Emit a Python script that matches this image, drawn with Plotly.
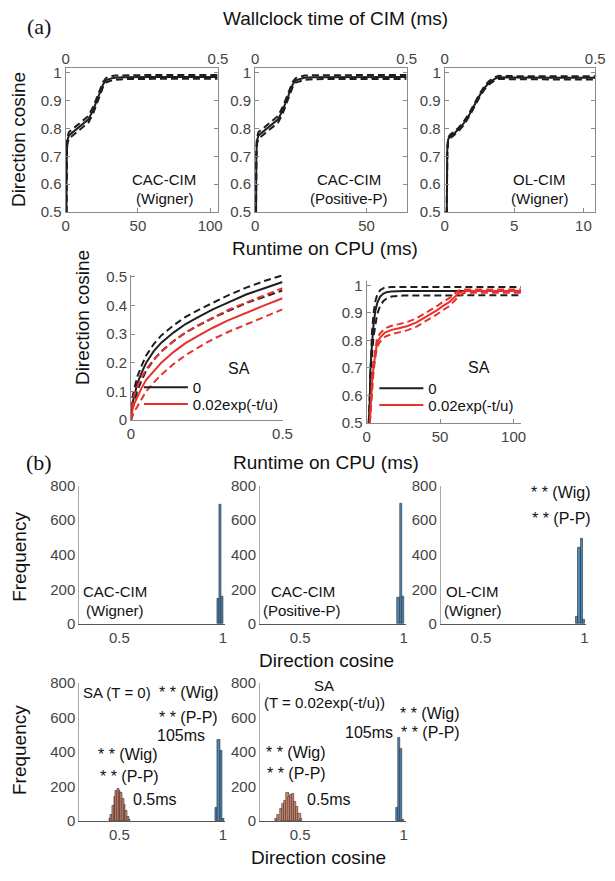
import plotly.graph_objects as go

W, H = 615, 881
FONT = "Liberation Sans, Arial, Helvetica, sans-serif"
SERIF = "Liberation Serif, Times New Roman, serif"
BLACK = "#1e1e1e"
RED = "#e8302c"
BLUE = "#4a88ba"
ORANGE = "#e08a6c"
EDGE = "#2b2b2b"
TICK = "#444444"
AXIS = "#8a8a8a"

# ---------------- data ----------------
# (a) top row: direction cosine vs runtime on CPU (ms)
cacw_t = [0, 0.6, 0.8, 1.2, 2.3, 5, 9, 12.5, 15.8, 19, 22.5, 26, 28, 31, 34, 40, 60, 80, 105]
cacw_mean = [0.5, 0.5, 0.70, 0.755, 0.775, 0.787, 0.805, 0.818, 0.833, 0.865, 0.912, 0.959, 0.973, 0.979, 0.982, 0.984, 0.985, 0.985, 0.985]
cacw_hi = [0.5, 0.5, 0.72, 0.767, 0.787, 0.799, 0.817, 0.830, 0.845, 0.877, 0.924, 0.968, 0.981, 0.987, 0.990, 0.991, 0.992, 0.992, 0.992]
cacw_lo = [0.5, 0.5, 0.68, 0.743, 0.763, 0.775, 0.793, 0.806, 0.821, 0.853, 0.900, 0.950, 0.965, 0.971, 0.974, 0.977, 0.978, 0.978, 0.978]

cacp_t = [0, 0.4, 0.52, 0.78, 1.5, 3.25, 5.85, 8.1, 10.3, 12.35, 14.6, 16.9, 18.2, 20.2, 22.1, 26, 39, 52, 68]
cacp_mean = [0.5, 0.5, 0.70, 0.755, 0.775, 0.787, 0.805, 0.818, 0.833, 0.865, 0.912, 0.959, 0.973, 0.979, 0.982, 0.984, 0.985, 0.985, 0.985]
cacp_hi = [0.5, 0.5, 0.72, 0.767, 0.787, 0.799, 0.817, 0.830, 0.845, 0.877, 0.924, 0.968, 0.981, 0.987, 0.990, 0.991, 0.992, 0.992, 0.992]
cacp_lo = [0.5, 0.5, 0.68, 0.743, 0.763, 0.775, 0.793, 0.806, 0.821, 0.853, 0.900, 0.950, 0.965, 0.971, 0.974, 0.977, 0.978, 0.978, 0.978]

olw_t = [0, 0.15, 0.18, 0.25, 0.4, 0.63, 1.0, 1.34, 1.8, 2.2, 2.5, 2.85, 3.2, 3.6, 3.9, 4.5, 6, 8, 10.85]
olw_mean = [0.5, 0.5, 0.72, 0.762, 0.772, 0.780, 0.797, 0.816, 0.852, 0.890, 0.917, 0.945, 0.964, 0.978, 0.984, 0.983, 0.982, 0.982, 0.982]
olw_hi = [0.5, 0.5, 0.73, 0.768, 0.778, 0.786, 0.803, 0.822, 0.858, 0.896, 0.923, 0.951, 0.970, 0.984, 0.989, 0.988, 0.987, 0.987, 0.987]
olw_lo = [0.5, 0.5, 0.71, 0.756, 0.766, 0.774, 0.791, 0.810, 0.846, 0.884, 0.911, 0.939, 0.958, 0.972, 0.978, 0.977, 0.976, 0.976, 0.976]

wall_ticks = [0, 0.5]

# (a) bottom row: SA, short runtime
sa_short_t = [0, 0.002, 0.005, 0.01, 0.02, 0.035, 0.05, 0.075, 0.1, 0.14, 0.18, 0.22, 0.27, 0.32, 0.38, 0.44, 0.5]
sa0_short = [0, 0.035, 0.06, 0.08, 0.125, 0.165, 0.2, 0.24, 0.27, 0.305, 0.335, 0.358, 0.386, 0.41, 0.438, 0.46, 0.482]
sa0_short_hi = [0, 0.05, 0.08, 0.105, 0.15, 0.19, 0.225, 0.265, 0.295, 0.33, 0.36, 0.383, 0.41, 0.435, 0.462, 0.485, 0.505]
sa0_short_lo = [0, 0.02, 0.04, 0.058, 0.1, 0.138, 0.172, 0.21, 0.24, 0.275, 0.305, 0.328, 0.356, 0.38, 0.408, 0.43, 0.452]
saT_short = [0, 0.02, 0.038, 0.055, 0.08, 0.112, 0.14, 0.172, 0.2, 0.237, 0.268, 0.293, 0.322, 0.348, 0.375, 0.40, 0.425]
saT_short_hi = [0, 0.035, 0.06, 0.085, 0.115, 0.148, 0.177, 0.21, 0.238, 0.275, 0.305, 0.33, 0.358, 0.384, 0.41, 0.436, 0.46]
saT_short_lo = [0, 0.005, 0.018, 0.028, 0.045, 0.072, 0.1, 0.13, 0.158, 0.195, 0.226, 0.252, 0.282, 0.307, 0.334, 0.36, 0.386]

# (a) bottom row: SA, long runtime
sa0_long_t = [1.5, 2.2, 2.6, 3.0, 3.7, 4.8, 5.9, 7.2, 9.2, 11.5, 13.6, 17, 25, 50, 75, 105]
sa0_long = [0.5, 0.58, 0.69, 0.74, 0.786, 0.86, 0.905, 0.935, 0.959, 0.970, 0.975, 0.978, 0.979, 0.979, 0.979, 0.979]
sa0_long_hi = [0.5, 0.60, 0.72, 0.78, 0.83, 0.90, 0.94, 0.965, 0.982, 0.990, 0.993, 0.994, 0.994, 0.994, 0.994, 0.994]
sa0_long_lo = [0.5, 0.56, 0.65, 0.70, 0.745, 0.815, 0.86, 0.895, 0.925, 0.943, 0.952, 0.959, 0.963, 0.964, 0.964, 0.964]
saT_long_t = [2.2, 3.0, 3.8, 4.8, 6, 7, 8, 9.2, 12.5, 17, 22, 28, 34, 39, 44, 48, 52, 56.5, 60, 63, 67, 75, 105]
saT_long = [0.5, 0.58, 0.65, 0.707, 0.755, 0.786, 0.80, 0.81, 0.828, 0.838, 0.844, 0.852, 0.865, 0.88, 0.895, 0.91, 0.925, 0.94, 0.958, 0.973, 0.979, 0.979, 0.979]
saT_long_hi = [0.5, 0.60, 0.67, 0.725, 0.772, 0.802, 0.815, 0.825, 0.843, 0.853, 0.859, 0.867, 0.880, 0.895, 0.910, 0.925, 0.940, 0.954, 0.970, 0.982, 0.985, 0.985, 0.985]
saT_long_lo = [0.5, 0.56, 0.63, 0.689, 0.738, 0.770, 0.785, 0.795, 0.813, 0.823, 0.829, 0.837, 0.850, 0.865, 0.880, 0.895, 0.910, 0.925, 0.945, 0.963, 0.973, 0.973, 0.973]

# (b) histograms of direction cosine (frequency)
h_cacw_x = [0.976, 0.987, 0.998]
h_cacw_n = [145, 690, 155]
h_cacp_x = [0.975, 0.986, 0.997]
h_cacp_n = [150, 695, 160]
h_olw_x = [0.962, 0.974, 0.986, 0.998]
h_olw_n = [44, 441, 494, 24]
h_sa0_short_x = [0.454, 0.462, 0.470, 0.478, 0.486, 0.494, 0.502, 0.510, 0.518, 0.526, 0.534, 0.542, 0.550]
h_sa0_short_n = [12, 36, 90, 140, 175, 185, 175, 165, 130, 95, 60, 25, 8]
h_sa0_long_x = [0.970, 0.980, 0.990, 1.000]
h_sa0_long_n = [74, 471, 408, 15]
h_saT_short_x = [0.3835, 0.395, 0.407, 0.418, 0.429, 0.439, 0.448, 0.458, 0.467, 0.476, 0.486, 0.497, 0.506]
h_saT_short_n = [15, 35, 70, 100, 120, 165, 140, 150, 155, 110, 80, 40, 15]
h_saT_long_x = [0.967, 0.977, 0.988, 0.998]
h_saT_long_n = [75, 481, 420, 10]
hist_ticks = [0.5, 1]
hist_ticktext = ["0.5", "1"]
freq_ticks = [0, 200, 400, 600, 800]

# ---------------- helpers ----------------
def n(i):
    return "" if i == 1 else str(i)

def xdom(x0, x1):
    return [x0 / W, x1 / W]

def ydom(y0, y1):
    return [1 - y1 / H, 1 - y0 / H]

fig = go.Figure()
layout = {}
annotations = []

def ann(text, x, y, size=15, xanchor="center", angle=0, family=FONT, color="#111"):
    annotations.append(dict(text=text, x=x / W, y=1 - y / H, xref="paper", yref="paper",
                            xanchor=xanchor, yanchor="middle", showarrow=False,
                            textangle=angle, font=dict(family=family, size=size, color=color)))

def line(xa, ya, t, y, color, dash=None, width=2, name=None, legend=None):
    fig.add_trace(go.Scatter(x=t, y=y, xaxis="x" + n(xa), yaxis="y" + n(ya), mode="lines",
                             line=dict(color=color, width=width, dash=dash),
                             name=name, showlegend=legend is not None,
                             legend=legend if legend else "legend", hoverinfo="skip"))

tickfont = dict(family=FONT, size=15, color=TICK)
DASH = "7px,4px"

# ---- (a) top row ----
top = [
    (cacw_t, cacw_mean, cacw_hi, cacw_lo, (63, 219), [0, 105.4], [0, 50, 100]),
    (cacp_t, cacp_mean, cacp_hi, cacp_lo, (257, 412), [0, 68], [0, 50]),
    (olw_t, olw_mean, olw_hi, olw_lo, (451, 605), [0, 10.85], [0, 5, 10]),
]
yt = [0.5, 0.6, 0.7, 0.8, 0.9, 1.0]
ytt = ["0.5", "0.6", "0.7", "0.8", "0.9", "1"]
for i, (t, m, hi, lo, (x0, x1), xr, xt) in enumerate(top):
    xa, xtop, ya = 2 * i + 1, 2 * i + 2, i + 1
    line(xa, ya, t, hi, BLACK, DASH, 2)
    line(xa, ya, t, lo, BLACK, DASH, 2)
    line(xa, ya, t, m, BLACK, None, 2)
    fig.add_trace(go.Scatter(x=wall_ticks, y=[None, None], xaxis="x" + n(xtop), yaxis="y" + n(ya),
                             mode="lines", showlegend=False, hoverinfo="skip"))
    layout["xaxis" + n(xa)] = dict(domain=xdom(x0, x1), range=xr, anchor="y" + n(ya),
                                   tickvals=xt, showline=True, mirror=True, linecolor=AXIS,
                                   ticks="inside", ticklen=4, tickcolor=AXIS,
                                   tickfont=tickfont, showgrid=False, zeroline=False)
    layout["xaxis" + n(xtop)] = dict(overlaying="x" + n(xa), side="top", range=[0, 0.5],
                                     anchor="y" + n(ya), tickvals=wall_ticks, ticktext=["0", "0.5"],
                                     ticks="inside", ticklen=4, tickcolor=AXIS, showline=False,
                                     tickfont=tickfont, showgrid=False, zeroline=False)
    layout["yaxis" + n(ya)] = dict(domain=ydom(60, 207), range=[0.5, 1.0176], anchor="x" + n(xa),
                                   tickvals=yt, ticktext=ytt, showline=True, mirror="ticks",
                                   linecolor=AXIS, ticks="inside", ticklen=4, tickcolor=AXIS,
                                   tickfont=tickfont, showgrid=False, zeroline=False)

# ---- (a) bottom row ----
# SA short
line(7, 4, sa_short_t, sa0_short_hi, BLACK, DASH, 2)
line(7, 4, sa_short_t, sa0_short_lo, BLACK, DASH, 2)
line(7, 4, sa_short_t, sa0_short, BLACK, None, 2, name="0", legend="legend2")
line(7, 4, sa_short_t, saT_short_hi, RED, DASH, 2)
line(7, 4, sa_short_t, saT_short_lo, RED, DASH, 2)
line(7, 4, sa_short_t, saT_short, RED, None, 2, name="0.02exp(-t/u)", legend="legend3")
# SA long
line(8, 5, sa0_long_t, sa0_long_hi, BLACK, DASH, 2)
line(8, 5, sa0_long_t, sa0_long_lo, BLACK, DASH, 2)
line(8, 5, sa0_long_t, sa0_long, BLACK, None, 2, name="0", legend="legend4")
line(8, 5, saT_long_t, saT_long_hi, RED, DASH, 2)
line(8, 5, saT_long_t, saT_long_lo, RED, DASH, 2)
line(8, 5, saT_long_t, saT_long, RED, None, 2, name="0.02exp(-t/u)", legend="legend5")

for xa, ya, (x0, x1), (y0, y1), xr, yr, xt, xtt, ytv, ytt2 in [
    (7, 4, (130, 285), (271, 419), [0, 0.5], [0, 0.507], [0, 0.5], ["0", "0.5"],
     [0, 0.1, 0.2, 0.3, 0.4, 0.5], ["0", "0.1", "0.2", "0.3", "0.4", "0.5"]),
    (8, 5, (371, 529), (277, 422), [0, 105], [0.5, 1.017], [0, 50, 100], ["0", "50", "100"],
     yt, ytt),
]:
    layout["xaxis" + n(xa)] = dict(domain=xdom(x0, x1), range=xr, anchor="y" + n(ya),
                                   tickvals=xt, ticktext=xtt, showline=True, linecolor=AXIS,
                                   ticks="inside", ticklen=4, tickcolor=AXIS,
                                   tickfont=tickfont, showgrid=False, zeroline=False)
    layout["yaxis" + n(ya)] = dict(domain=ydom(y0, y1), range=yr, anchor="x" + n(xa),
                                   tickvals=ytv, ticktext=ytt2, showline=True, linecolor=AXIS,
                                   ticks="inside", ticklen=4, tickcolor=AXIS,
                                   tickfont=tickfont, showgrid=False, zeroline=False)

legfont = dict(family=FONT, size=15, color="#111")
for key, lx, ly in [("legend2", 138, 386), ("legend3", 138, 403),
                    ("legend4", 379, 387), ("legend5", 379, 404)]:
    layout[key] = dict(x=lx / W, y=1 - ly / H, xanchor="left", yanchor="middle",
                       bgcolor="rgba(0,0,0,0)", font=legfont, itemwidth=44,
                       borderwidth=0)

# ---- (b) histograms ----
hists = [
    (9, 6, (77, 226), (486, 627), [(h_cacw_x, h_cacw_n, BLUE, 0.011)]),
    (10, 7, (262, 411), (486, 627), [(h_cacp_x, h_cacp_n, BLUE, 0.011)]),
    (11, 8, (447, 596), (486, 627), [(h_olw_x, h_olw_n, BLUE, 0.012)]),
    (12, 9, (77, 226), (687, 828), [(h_sa0_short_x, h_sa0_short_n, ORANGE, 0.008),
                                     (h_sa0_long_x, h_sa0_long_n, BLUE, 0.010)]),
    (13, 10, (262, 411), (687, 828), [(h_saT_short_x, h_saT_short_n, ORANGE, 0.0105),
                                       (h_saT_long_x, h_saT_long_n, BLUE, 0.010)]),
]
for xa, ya, (x0, x1), (y0, y1), series in hists:
    for xs, ns, col, w in series:
        fig.add_trace(go.Bar(x=xs, y=ns, width=w, xaxis="x" + n(xa), yaxis="y" + n(ya),
                             marker=dict(color=col, line=dict(color=EDGE, width=0.6)),
                             showlegend=False, hoverinfo="skip"))
    layout["xaxis" + n(xa)] = dict(domain=xdom(x0, x1), range=[0.3066, 1.0094], anchor="y" + n(ya),
                                   tickvals=hist_ticks, ticktext=hist_ticktext, showline=True,
                                   linecolor="#555", linewidth=1, ticks="", tickfont=tickfont,
                                   showgrid=False, zeroline=False)
    layout["yaxis" + n(ya)] = dict(domain=ydom(y0, y1), range=[0, 800], anchor="x" + n(xa),
                                   tickvals=freq_ticks, showline=True, linecolor="#aaa",
                                   ticks="", tickfont=tickfont, showgrid=False, zeroline=False)

# ---- text ----
ann("(a)", 36, 18, 22, family=SERIF)
ann("(b)", 36, 462, 22, family=SERIF)
ann("Wallclock time of CIM (ms)", 339, 10, 19)
ann("Runtime on CPU (ms)", 328, 244, 19)
ann("Direction cosine", 15, 133, 19, angle=-90)
ann("CAC-CIM", 164, 174); ann("(Wigner)", 165, 193)
ann("CAC-CIM", 353, 174); ann("(Positive-P)", 353, 193)
ann("OL-CIM", 548, 174); ann("(Wigner)", 548, 193)
ann("Direction cosine", 81, 315, 19, angle=-90)
ann("SA", 240, 367, 16)
ann("SA", 486, 366, 16)
ann("Runtime on CPU (ms)", 329, 462, 19)

ann("Frequency", 16, 559, 19, angle=-90)
ann("Frequency", 16, 756, 19, angle=-90)
ann("Direction cosine", 330, 664, 19)
ann("Direction cosine", 322, 865, 19)
ann("CAC-CIM", 114, 594); ann("(Wigner)", 114, 613)
ann("CAC-CIM", 306, 594); ann("(Positive-P)", 305, 613)
ann("OL-CIM", 479, 594); ann("(Wigner)", 480, 613)
ann("* * (Wig)", 570, 493, 16); ann("* * (P-P)", 570, 520, 16)

ann("SA (T = 0)", 79, 697, 15, xanchor="left")
ann("* * (Wig)", 189, 697, 16); ann("* * (P-P)", 189, 722, 16)
ann("105ms", 181, 741, 16)
ann("* * (Wig)", 127, 760, 16); ann("* * (P-P)", 128, 783, 16)
ann("0.5ms", 155, 806, 16)

ann("SA", 327, 690, 15)
ann("(T = 0.02exp(-t/u))", 328, 707, 15)
ann("* * (Wig)", 299, 758, 16); ann("* * (P-P)", 299, 780, 16)
ann("0.5ms", 333, 806, 16)
ann("105ms", 373, 738, 16)
ann("* * (Wig)", 436, 718, 16); ann("* * (P-P)", 436, 738, 16)

fig.update_layout(
    width=W, height=H, margin=dict(l=0, r=0, t=0, b=0),
    paper_bgcolor="white", plot_bgcolor="white",
    barmode="overlay", bargap=0,
    font=dict(family=FONT, size=15, color="#111"),
    annotations=annotations,
    **layout,
)
fig.write_html("out.html", config={"displayModeBar": False},
               post_script="document.body.style.margin='0px';")
